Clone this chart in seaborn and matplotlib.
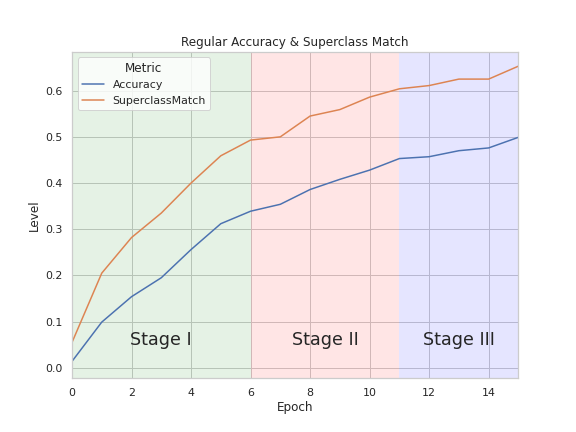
import pandas as pd
import matplotlib
matplotlib.use("Agg")
import matplotlib.pyplot as plt
import seaborn as sns

sns.set(style="whitegrid")

# Valores
epochs = list(range(16))
accuracy = [0.014, 0.099, 0.154, 0.195, 0.256, 0.312, 0.339, 0.354, 0.386,
            0.408, 0.428, 0.453, 0.457, 0.470, 0.476, 0.499]
superclass = [0.055, 0.205, 0.282, 0.335, 0.400, 0.459, 0.493, 0.500, 0.545,
              0.559, 0.586, 0.604, 0.611, 0.625, 0.625, 0.653]
stage_bounds = [0, 6, 11, 15]
stage_names = ["Stage I", "Stage II", "Stage III"]
stage_colors = ["green", "red", "blue"]

df = pd.DataFrame({
    "Epoch": epochs * 2,
    "Level": accuracy + superclass,
    "Metric": ["Accuracy"] * len(epochs) + ["SuperclassMatch"] * len(epochs),
})

fig, ax = plt.subplots(figsize=(8, 6), dpi=72)
fig.subplots_adjust(bottom=0.125)

sns.lineplot(data=df, x="Epoch", y="Level", hue="Metric", ax=ax)

# Faixas dos estágios
for i, nome in enumerate(stage_names):
    ini, fim = stage_bounds[i], stage_bounds[i + 1]
    ax.axvspan(ini, fim, color=stage_colors[i], alpha=0.1, lw=0)
    ax.text((ini + fim) / 2, 0.05, nome, ha="center", fontsize=17.5)

ax.set_xlim(0, 15)
ax.set_ylim(-0.022, 0.684)
ax.set_title("Regular Accuracy & Superclass Match")
ax.legend(title="Metric", loc="upper left")

plt.savefig("out.png")
